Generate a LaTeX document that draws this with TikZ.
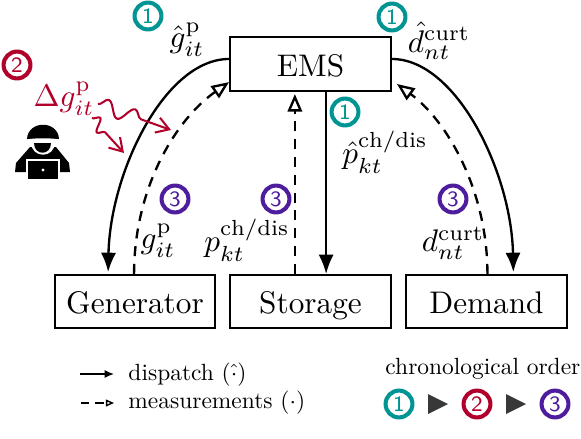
\documentclass[tikz,border=0pt]{standalone}
\usepackage{amsmath}
\usepackage{fontspec}
\usetikzlibrary{arrows.meta,decorations.pathmorphing}

\definecolor{orderone}{HTML}{009492}
\definecolor{ordertwo}{HTML}{B1002A}
\definecolor{orderthree}{HTML}{4E1D9E}

\tikzset{
  block/.style={draw=black, line width=0.65pt, minimum width=51.5pt, minimum height=17pt, inner sep=0pt,
    text height=1.9ex, text depth=0.1ex},
  dispatch/.style={line width=0.75pt, -{Latex[length=6.2pt,width=4.9pt]}},
  measure/.style={line width=0.75pt, dash pattern=on 3.2pt off 2.5pt, -{Triangle[open,length=5.6pt,width=4.6pt]}},
  attack/.style={ordertwo, line width=0.65pt, -{Straight Barb[length=4pt,width=5pt]}, decorate},
  badge/.style={circle, draw=#1, text=#1, line width=1.3pt, minimum size=8.6pt, inner sep=0pt,
    font=\fontsize{7}{7}\sffamily\selectfont},
  lab/.style={inner sep=0pt},
  legendtext/.style={inner sep=0pt, anchor=west, transform shape, scale=0.75}
}

\begin{document}
\begin{tikzpicture}[x=0.32pt, y=-0.32pt]
\useasboundingbox (0,0) rectangle (581,438);

% Blocks
\node[block] (ems) at (310.5,64) {EMS};
\node[block] (gen) at (135,301.5) {Generator};
\node[block] (sto) at (310.5,301.5) {Storage};
\node[block] (dem) at (486.5,301.5) {Demand};

% Dispatch
\draw[dispatch] ([yshift=1.6pt]ems.west) .. controls +(-64,0) and +(2,-100) .. ([xshift=-8.6pt,yshift=0.6pt]gen.north);
\draw[dispatch] ([yshift=1.6pt]ems.east) .. controls +(64,0) and +(-2,-100) .. ([xshift=8.6pt,yshift=0.6pt]dem.north);
\draw[dispatch] ([xshift=5pt]ems.south) -- ([xshift=5pt]sto.north);

% Measurements
\draw[measure] ([xshift=-0.3pt]gen.north) .. controls +(0,-85) and +(-54,38) .. ([yshift=-5.8pt]ems.west);
\draw[measure] ([xshift=0.3pt]dem.north) .. controls +(0,-85) and +(49,36) .. ([xshift=1.6pt,yshift=-6.4pt]ems.east);
\draw[measure] ([xshift=-5pt]sto.north) -- ([xshift=-5pt,yshift=-0.8pt]ems.south);

% Labels
\node[lab] (ghat) at (187,40) {$\hat{g}_{it}^{\mathrm{p}}$};
\node[lab] (dhat) at (439,41) {$\hat{d}_{nt}^{\mathrm{curt}}$};
\node[lab] (phat) at (385,152) {$\hat{p}_{kt}^{\mathrm{ch/dis}}$};
\node[lab] (gmeas) at (158,241) {$g_{it}^{\mathrm{p}}$};
\node[lab] (pmeas) at (247,240) {$p_{kt}^{\mathrm{ch/dis}}$};
\node[lab] (dmeas) at (453,243) {$d_{nt}^{\mathrm{curt}}$};
\node[lab, text=ordertwo] (delta) at (64,99) {$\Delta g_{it}^{\mathrm{p}}$};

% Attack
\coordinate (hitmeas) at (171,130);
\coordinate (hitcmd) at (124,153);
\draw[attack, decoration={snake, amplitude=2.4pt, segment length=9pt, post length=9pt}] (98,104) -- (hitmeas);
\draw[attack, decoration={snake, amplitude=2pt, segment length=5.5pt, post length=7pt}] (92,118) -- (hitcmd);

% Order marks
\node[badge=orderone] (one a) at (148,16) {1};
\node[badge=orderone] (one b) at (392,17) {1};
\node[badge=orderone] (one c) at (345,112) {1};
\node[badge=ordertwo] (two a) at (17,65) {2};
\node[badge=orderthree] (three a) at (175,199) {3};
\node[badge=orderthree] (three b) at (276,199) {3};
\node[badge=orderthree] (three c) at (453,199) {3};

% Hacker
\fill (15,172) -- (16,163) -- (30,147) -- (56,147) -- (69,163) -- (70,172) -- cycle;
\fill (27,139) .. controls (28,120) and (58,120) .. (59,139) -- cycle;
\draw[white, line width=0.8pt] (25,141) .. controls (34,139) and (52,139) .. (61,141);
\fill[white] (31,142) .. controls (31,159) and (55,159) .. (55,142) -- cycle;
\fill (34,143) .. controls (34,156) and (51,156) .. (51,143) -- cycle;
\draw[white, line width=0.6pt, fill=black] (27,160) rectangle (59,180);
\fill[white] (43,170) circle (0.5pt);

% Legend
\coordinate (disp a) at (80,374);
\coordinate (disp b) at (114,374);
\coordinate (meas a) at (81,403);
\coordinate (meas b) at (114,403);
\draw[line width=0.45pt, -{Latex[length=3pt,width=2.6pt]}] (disp a) -- (disp b);
\draw[line width=0.45pt, dash pattern=on 2.6pt off 2pt, -{Triangle[open,length=2.6pt,width=2.2pt]}] (meas a) -- (meas b);
\node[legendtext] (dispname) at (128,375) {dispatch ($\hat{\cdot}$)};
\node[legendtext] (measname) at (128,403) {measurements ($\cdot$)};
\node[legendtext] (ordername) at (385,369) {chronological order};
\node[badge=orderone] (one d) at (399,404) {1};
\node[badge=ordertwo] (two d) at (477,404) {2};
\node[badge=orderthree] (three d) at (555,404) {3};
\fill[black!78] (428,394) -- (448,404) -- (428,414) -- cycle;
\fill[black!78] (506,394) -- (526,404) -- (506,414) -- cycle;
\end{tikzpicture}
\end{document}
